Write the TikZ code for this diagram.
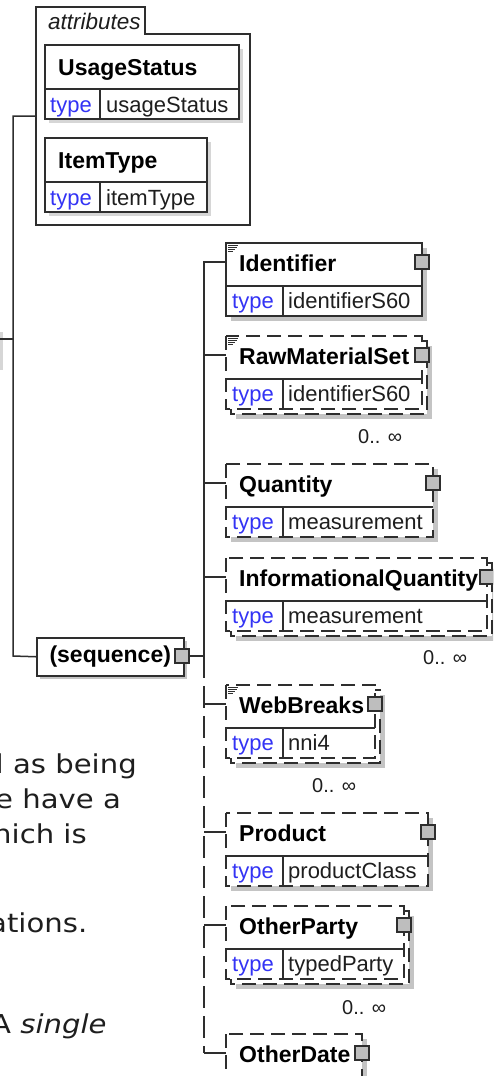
\documentclass[tikz,border=0pt]{standalone}
\usepackage{fontspec}
\setmainfont{Liberation Sans}
\newfontfamily\bodyfont[FakeStretch=1.12,ItalicFont={DejaVu Sans Oblique}]{DejaVu Sans}
\definecolor{typeblue}{HTML}{3333F5}
\definecolor{linec}{HTML}{2E2E2E}
\definecolor{shadowc}{HTML}{C4C4C4}
\definecolor{ashadow}{HTML}{D6D6D6}
\definecolor{sqfill}{HTML}{BEBEBE}
\definecolor{txt}{HTML}{1E1E1E}

\newcommand\elem[8]{% name, left, top, right, border style, label, type, repeated
  \pgfmathsetmacro\eb{#3+73}%
  \pgfmathsetmacro\ed{#3+43}%
  \pgfmathsetmacro\ey{#3+19}%
  \ifnum#8=1
    \fill[shadowc] (#2+10,#3+10) rectangle (#4+10,\eb+10);
    \filldraw[boxline,fill=white,#5] (#2+5,#3+5) rectangle (#4+5,\eb+5);
  \else
    \fill[shadowc] (#2+5,#3+5) rectangle (#4+5,\eb+5);
  \fi
  \filldraw[boxline,fill=white,#5] (#2,#3) rectangle (#4,\eb);
  \draw[boxline] (#2,\ed) -- (#4,\ed);
  \draw[boxline] (283,\ed) -- (283,\eb);
  \node[lbl] (#1-lbl) at (239,#3+28.5) {#6};
  \node[typ] (#1-typ) at (232,\ed+22.5) {type};
  \node[val] (#1-val) at (288,\ed+22.5) {#7};
  \node[sq] (#1-sq) at (#4,\ey) {};
  \coordinate (#1-in) at (#2,\ey);
}
\newcommand\annot[2]{%
  \draw[linec,line width=0.9pt] (#1,#2) -- ++(10,0) (#1,#2+2.3) -- ++(9,0)
    (#1,#2+4.6) -- ++(7,0) (#1,#2+6.9) -- ++(5,0);
}
\newcommand\attrbox[6]{% name, top, right, label, type, unused
  \pgfmathsetmacro\ab{#2+74}%
  \pgfmathsetmacro\ad{#2+44}%
  \fill[ashadow] (49,#2+4) rectangle (#3+4,\ab+4);
  \filldraw[boxline,fill=white] (45,#2) rectangle (#3,\ab);
  \draw[boxline] (45,\ad) -- (#3,\ad);
  \draw[boxline] (100,\ad) -- (100,\ab);
  \node[lbl] (#1-lbl) at (58,#2+30) {#4};
  \node[typ] (#1-typ) at (50,\ad+23) {type};
  \node[val] (#1-val) at (106,\ad+23) {#5};
}

\begin{document}
\begin{tikzpicture}[x=1pt,y=-1pt,
  boxline/.style={draw=linec,line width=1.5pt},
  dbox/.style={dash pattern=on 14pt off 7pt},
  conn/.style={draw=linec,line width=1.5pt},
  dtrunk/.style={dash pattern=on 22pt off 8pt},
  sq/.style={draw=linec,line width=1.3pt,fill=sqfill,minimum size=14pt,inner sep=0pt},
  lbl/.style={font=\bfseries\fontsize{23}{23}\selectfont,text=black,anchor=base west,inner sep=0pt},
  typ/.style={font=\fontsize{22}{22}\selectfont,text=typeblue,anchor=base west,inner sep=0pt},
  val/.style={font=\fontsize{22}{22}\selectfont,text=txt,anchor=base west,inner sep=0pt},
  mult/.style={font=\fontsize{20}{20}\selectfont,text=txt,anchor=base west,inner sep=0pt},
  body/.style={font=\bodyfont\fontsize{26}{26}\selectfont,text=txt,anchor=base west,inner sep=0pt}]
\useasboundingbox (0,0) rectangle (493,1076);
\clip (0,0) rectangle (493,1076);
\fill[white] (0,0) rectangle (493,1076);

% partial parent box at the left edge
\fill[ashadow] (-6,332) rectangle (2.5,370);

% attributes container
\draw[boxline] (36,7) -- (145,7) -- (145,34) -- (250,34) -- (250,225) -- (36,225) -- cycle;
\node[font=\itshape\fontsize{22.5}{22.5}\selectfont,text=txt,anchor=base west,inner sep=0pt] (attrlbl) at (48,29) {attributes};
\coordinate (attr-in) at (36,116);
\attrbox{usage}{45}{239}{UsageStatus}{usageStatus}{}
\attrbox{itemt}{138}{207}{ItemType}{itemType}{}

% sequence compositor
\fill[shadowc] (40,641) rectangle (187,679);
\node[draw=linec,line width=1.5pt,fill=white,minimum width=147pt,minimum height=38pt,anchor=north west,inner sep=0pt,
      font=\bfseries\fontsize{23}{23}\selectfont] (seq) at (36,637) {\raisebox{-1pt}{(sequence)}};
\node[sq] (seq-sq) at (182,656) {};

% left trunk
\coordinate (tA) at (13,116);
\coordinate (tB) at (13,656);
\coordinate (tP) at (13,339);
\coordinate (lE) at (-2,339);
\draw[conn] (attr-in) -- (tA) -- (tB) -- (seq.west);
\draw[conn] (lE) -- (tP);

% children
\elem{ident}{226}{243}{422}{solid}{Identifier}{identifierS60}{0}
\annot{228}{245}
\elem{raw}{226}{336}{422}{dbox}{RawMaterialSet}{identifierS60}{1}
\annot{228}{338}
\node[mult] (raw-m) at (358,443) {0.. ∞};
\elem{qty}{226}{464}{433}{dbox}{Quantity}{measurement}{0}
\elem{iq}{226}{558}{487}{dbox}{InformationalQuantity}{measurement}{1}
\node[mult] (iq-m) at (423,664) {0.. ∞};
\elem{web}{226}{685}{375}{dbox}{WebBreaks}{nni4}{1}
\annot{228}{687}
\node[mult] (web-m) at (312,792) {0.. ∞};
\elem{prod}{226}{813}{428}{dbox}{Product}{productClass}{0}
\elem{party}{226}{906}{404}{dbox}{OtherParty}{typedParty}{1}
\node[mult] (party-m) at (342,1014) {0.. ∞};

% OtherDate (cut off by the bottom edge)
\fill[shadowc] (231,1039) rectangle (367,1090);
\filldraw[boxline,fill=white,dbox] (226,1034) rectangle (362,1085);
\node[lbl] (odate-lbl) at (239,1062.5) {OtherDate};
\node[sq] (odate-sq) at (362,1053) {};
\coordinate (odate-in) at (226,1053);

% right trunk
\coordinate (rT) at (204,262);
\coordinate (rS) at (204,656);
\coordinate (rB) at (204,1053);
\draw[conn] (seq-sq.east) -- (rS);
\draw[conn] (ident-in) -- (rT) -- (rS);
\draw[conn] (raw-in -| rT) -- (raw-in);
\draw[conn] (qty-in -| rT) -- (qty-in);
\draw[conn] (iq-in -| rT) -- (iq-in);
\draw[conn,dtrunk] (rS) -- (rB);
\draw[conn] (web-in -| rT) -- (web-in);
\draw[conn] (prod-in -| rT) -- (prod-in);
\draw[conn] (party-in -| rT) -- (party-in);
\draw[conn] (rB) -- (odate-in);

% body text cut by the left edge, as in the reference
\node[body] (t1) at (-4.5,773) {l as being};
\node[body] (t2) at (-5,808) {e have a};
\node[body] (t3) at (-7,843) {hich is};
\node[body] (t4) at (-11,932) {ations.};
\node[body] (t5) at (-9,1033) {A \textit{single}};
\end{tikzpicture}
\end{document}
